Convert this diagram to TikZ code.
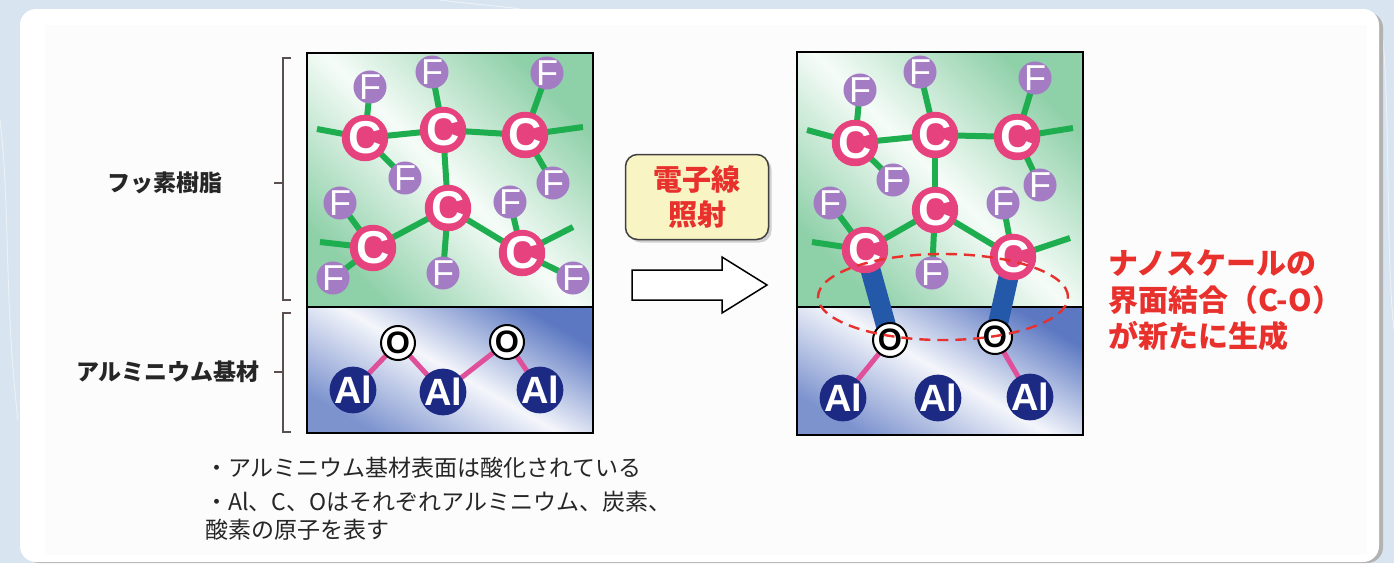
\documentclass[tikz,border=0pt]{standalone}
\usepackage{fontspec}
\setmainfont{Liberation Sans}
\newfontfamily\jp{Noto Sans CJK JP}
\usetikzlibrary{shadows}

\definecolor{pagebg}{HTML}{D8E4F0}
\definecolor{cardin}{HTML}{FCFCFC}
\definecolor{resgreen}{HTML}{8ED0A8}
\definecolor{resglow}{HTML}{F6FCF8}
\definecolor{subblue}{HTML}{5C78C2}
\definecolor{subglow}{HTML}{F4F6FB}
\definecolor{cpink}{HTML}{E6437E}
\definecolor{fpurple}{HTML}{A47CC4}
\definecolor{alnavy}{HTML}{1C2A84}
\definecolor{bondgreen}{HTML}{1FAE4F}
\definecolor{bondpink}{HTML}{E0509A}
\definecolor{bondblue}{HTML}{2458A8}
\definecolor{notered}{HTML}{E8302C}
\definecolor{boxfill}{HTML}{F8F4C4}
\definecolor{bracketc}{HTML}{5A5050}

\pgfdeclarelayer{base}
\pgfdeclarelayer{bonds}
\pgfsetlayers{base,bonds,main}

\tikzset{
  catom/.style={circle, fill=cpink, minimum size=42pt, inner sep=0pt, text=white,
    font=\fontsize{46}{46}\selectfont\bfseries},
  fatom/.style={circle, fill=fpurple, minimum size=32pt, inner sep=0pt, text=white,
    font=\fontsize{36}{36}\selectfont},
  alatom/.style={circle, fill=alnavy, minimum size=44pt, inner sep=0pt, text=white,
    font=\fontsize{38}{38}\selectfont\bfseries},
  oatom/.style={circle, fill=white, draw=black, line width=2pt, minimum size=34pt,
    inner sep=0pt, font=\fontsize{31}{31}\selectfont\bfseries},
  gbond/.style={draw=bondgreen, line width=6pt},
  pbond/.style={draw=bondpink, line width=5pt},
  bbond/.style={draw=bondblue, line width=20pt},
  frame/.style={draw=black, line width=2pt},
  bracket/.style={draw=bracketc, line width=1.4pt},
  label/.style={font=\jp\bfseries\fontsize{23}{23}\selectfont, text=black!85},
  note/.style={font=\jp\fontsize{23}{23}\selectfont, text=black!85, anchor=west, inner sep=0pt},
  redlabel/.style={font=\jp\bfseries\fontsize{30}{30}\selectfont, text=notered, anchor=west, inner sep=0pt},
}

\begin{document}
\begin{tikzpicture}[x=1pt,y=-1pt]
\useasboundingbox (0,0) rectangle (1394,563);

\begin{pgfonlayer}{base}
  % page and card
  \fill[pagebg] (0,0) rectangle (1394,563);
  \draw[white, opacity=0.5, line width=1pt] (0,120) .. controls (10,200) and (4,300) .. (18,420);
  \draw[white, opacity=0.5, line width=1pt] (440,0) .. controls (470,4) and (500,6) .. (520,9);
  \draw[white, opacity=0.5, line width=1pt] (1383,40) .. controls (1390,120) and (1386,260) .. (1394,330);
  \fill[black!30, rounded corners=16pt] (23,12) rectangle (1383,563);
  \fill[white, rounded corners=16pt] (20,9) rectangle (1379,562);
  \fill[cardin] (45,25) rectangle (1367,555);

  % left panels
  \shade[left color=resgreen, right color=resgreen, middle color=resglow, shading angle=-45]
    (307,53) rectangle (593,307);
  \shade[left color=subblue, right color=subblue!80, middle color=subglow, shading angle=-30]
    (307,307) rectangle (593,433);
  \draw[frame] (307,53) rectangle (593,433);
  \draw[frame] (307,307) -- (593,307);

  % right panels
  \shade[left color=resgreen, right color=resgreen, middle color=resglow, shading angle=-45]
    (797,52) rectangle (1083,307);
  \shade[left color=subblue, right color=subblue!80, middle color=subglow, shading angle=-30]
    (797,307) rectangle (1083,435);
  \draw[frame] (797,52) rectangle (1083,435);
  \draw[frame] (797,307) -- (1083,307);
\end{pgfonlayer}

% ---------- left: before irradiation ----------
\node[catom] (LC1) at (365,138) {C};
\node[catom] (LC2) at (443,130) {C};
\node[catom] (LC3) at (525,135) {C};
\node[catom] (LC4) at (448,208) {C};
\node[catom] (LC5) at (373,248) {C};
\node[catom] (LC6) at (522,253) {C};
\node[fatom] (LF1) at (370,87) {F};
\node[fatom] (LF2) at (432,72) {F};
\node[fatom] (LF3) at (547,73) {F};
\node[fatom] (LF4) at (405,178) {F};
\node[fatom] (LF5) at (553,183) {F};
\node[fatom] (LF6) at (340,203) {F};
\node[fatom] (LF7) at (510,202) {F};
\node[fatom] (LF8) at (443,273) {F};
\node[fatom] (LF9) at (333,278) {F};
\node[fatom] (LF10) at (573,278) {F};
\coordinate (Ld1) at (317,129);
\coordinate (Ld2) at (583,127);
\coordinate (Ld3) at (320,242);
\coordinate (Ld4) at (573,227);
\node[oatom] (LO1) at (398,343) {O};
\node[oatom] (LO2) at (507,342) {O};
\node[alatom] (LAl1) at (353,390) {Al};
\node[alatom] (LAl2) at (443,392) {Al};
\node[alatom] (LAl3) at (540,390) {Al};

% ---------- right: after irradiation ----------
\node[catom] (RC1) at (855,143) {C};
\node[catom] (RC2) at (935,135) {C};
\node[catom] (RC3) at (1017,137) {C};
\node[catom] (RC4) at (935,210) {C};
\node[catom] (RC5) at (865,250) {C};
\node[catom] (RC6) at (1013,257) {C};
\node[fatom] (RF1) at (860,90) {F};
\node[fatom] (RF2) at (920,72) {F};
\node[fatom] (RF3) at (1035,78) {F};
\node[fatom] (RF4) at (893,180) {F};
\node[fatom] (RF5) at (1040,185) {F};
\node[fatom] (RF6) at (830,203) {F};
\node[fatom] (RF7) at (1003,203) {F};
\node[fatom] (RF8) at (932,273) {F};
\coordinate (Rd1) at (807,130);
\coordinate (Rd2) at (1073,128);
\coordinate (Rd3) at (812,242);
\coordinate (Rd4) at (1070,238);
\node[oatom] (RO1) at (890,340) {O};
\node[oatom] (RO2) at (995,337) {O};
\node[alatom] (RAl1) at (843,398) {Al};
\node[alatom] (RAl2) at (938,398) {Al};
\node[alatom] (RAl3) at (1030,397) {Al};

% bonds
\begin{pgfonlayer}{bonds}
  \foreach \p in {L,R} {
    \foreach \a/\b in {C1/C2, C2/C3, C2/C4, C4/C5, C4/C6, C4/F8, C1/F1, C1/F4,
                       C2/F2, C3/F3, C3/F5, C5/F6, C6/F7}
      \draw[gbond] (\p\a.center) -- (\p\b.center);
    \draw[gbond] (\p C1.center) -- (\p d1);
    \draw[gbond] (\p C3.center) -- (\p d2);
    \draw[gbond] (\p C5.center) -- (\p d3);
    \draw[gbond] (\p C6.center) -- (\p d4);
  }
  \draw[gbond] (LC5.center) -- (LF9.center);
  \draw[gbond] (LC6.center) -- (LF10.center);
  \foreach \a/\b in {LAl1/LO1, LO1/LAl2, LAl2/LO2, LO2/LAl3, RAl1/RO1, RO2/RAl3}
    \draw[pbond] (\a.center) -- (\b.center);
  \draw[bbond] (RC5.center) -- (RO1.center);
  \draw[bbond] (RC6.center) -- (RO2.center);
\end{pgfonlayer}

% new C-O interface region
\draw[notered, line width=2.4pt, dash pattern=on 11pt off 7pt] (943,297) ellipse [x radius=125pt, y radius=43pt];

% brackets and layer labels
\node[label] (resin) at (165,183) {フッ素樹脂};
\node[label] (alsub) at (168,372) {アルミニウム基材};
\draw[bracket] (291,58) -- (283,58) -- (283,300) -- (291,300);
\draw[bracket] (274,183) -- (283,183);
\draw[bracket] (291,313) -- (283,313) -- (283,432) -- (291,432);
\draw[bracket] (274,372) -- (283,372);

% irradiation step
\node[draw=black!75, line width=1.5pt, fill=boxfill, rounded corners=12pt,
      minimum width=143pt, minimum height=85pt, align=center,
      drop shadow={opacity=0.35, shadow xshift=3pt, shadow yshift=-3pt},
      font=\jp\bfseries\fontsize{29}{35}\selectfont, text=notered]
  (ebeam) at (697,197) {電子線\\照射};
\draw[line width=1.5pt, fill=white, line join=miter]
  (632,270) -- (722,270) -- (722,257) -- (767,285) -- (722,313) -- (722,300) -- (632,300) -- cycle;

% result label
\node[redlabel] (nano1) at (1108,263) {ナノスケールの};
\node[redlabel] (nano2) at (1108,300) {界面結合（C-O）};
\node[redlabel] (nano3) at (1108,336) {が新たに生成};

% notes
\node[note] (n1) at (205,468) {・アルミニウム基材表面は酸化されている};
\node[note] (n2) at (205,502) {・Al、C、Oはそれぞれアルミニウム、炭素、};
\node[note] (n3) at (205,530) {酸素の原子を表す};
\end{tikzpicture}
\end{document}
